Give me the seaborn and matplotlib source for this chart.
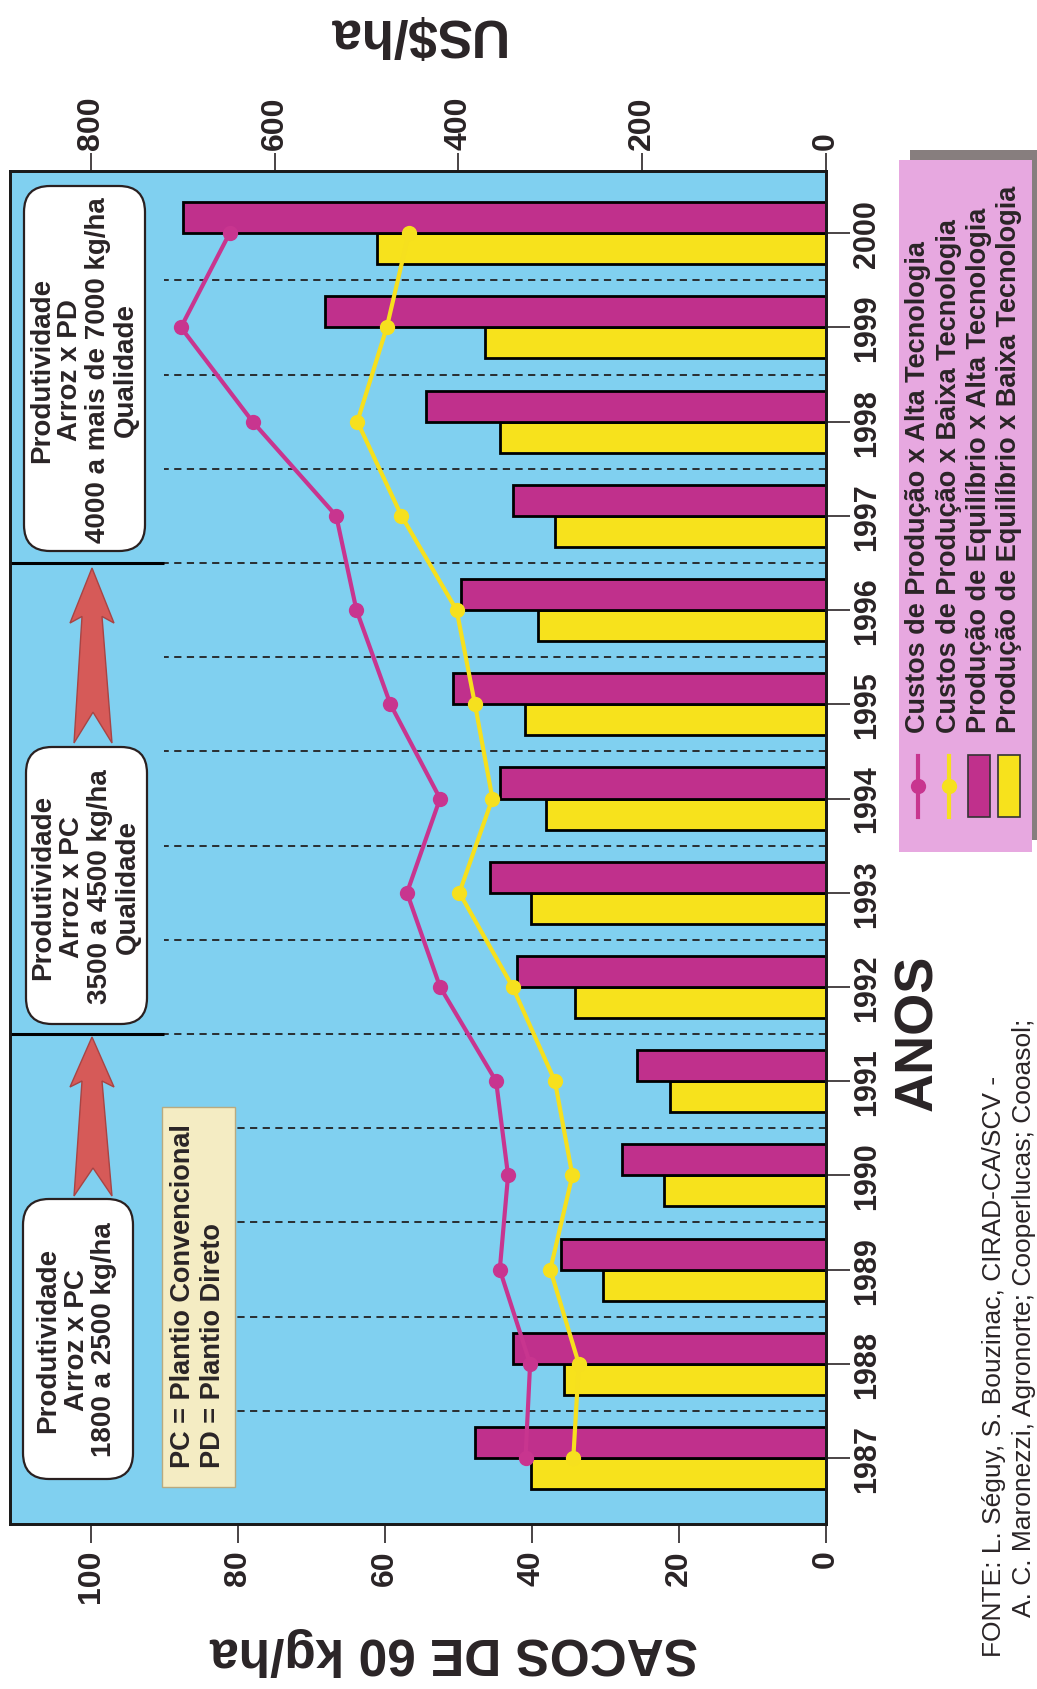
import pandas as pd
import matplotlib
matplotlib.use("Agg")
import matplotlib.pyplot as plt
import seaborn as sns
from matplotlib.patches import FancyBboxPatch, Rectangle, Polygon
from matplotlib.lines import Line2D

plt.rcParams['font.family'] = ['Liberation Sans', 'DejaVu Sans']
plt.rcParams['font.weight'] = 'bold'

# ---- data ----
anos = [1987, 1988, 1989, 1990, 1991, 1992, 1993, 1994, 1995, 1996, 1997, 1998, 1999, 2000]
prod_alta = [47.7, 42.6, 36.0, 27.8, 25.7, 42.1, 45.7, 44.3, 50.8, 49.7, 42.6, 54.4, 68.2, 87.4]
prod_baixa = [40.1, 35.7, 30.4, 22.1, 21.2, 34.2, 40.1, 38.1, 40.9, 39.2, 36.9, 44.4, 46.4, 61.1]
custo_alta = [327, 322, 355, 346, 359, 420, 456, 420, 474, 511, 533, 624, 702, 649]
custo_baixa = [275, 269, 300, 276, 295, 341, 399, 363, 382, 402, 462, 510, 478, 454]

sacos_ticks = [0, 20, 40, 60, 80, 100]
usd_ticks = [0, 200, 400, 600, 800]

lbl_custo_alta = 'Custos de Produção x Alta Tecnologia'
lbl_custo_baixa = 'Custos de Produção x Baixa Tecnologia'
lbl_prod_alta = 'Produção de Equilíbrio x Alta Tecnologia'
lbl_prod_baixa = 'Produção de Equilíbrio x Baixa Tecnologia'

fundo = '#80d0f0'
roxo = '#c0308c'
roxo_linha = '#c8358f'
amarelo = '#f7e21c'
amarelo_linha = '#f6e01e'
tinta = '#2a2426'

prod = pd.DataFrame({
    'Ano': anos * 2,
    'Sacos': prod_alta + prod_baixa,
    'Serie': [lbl_prod_alta] * len(anos) + [lbl_prod_baixa] * len(anos),
})
custo = pd.DataFrame({
    'Ano': anos * 2,
    'USD': custo_alta + custo_baixa,
    'Serie': [lbl_custo_alta] * len(anos) + [lbl_custo_baixa] * len(anos),
})

W, H = 1037, 1690
L, R, T, B = 10, 826, 172, 1525
fig = plt.figure(figsize=(W / 100, H / 100), dpi=100)
ax = fig.add_axes([L / W, 1 - B / H, (R - L) / W, (B - T) / H])
ax.set_facecolor(fundo)

# bars (production, sacos/ha)
sns.barplot(data=prod, x='Sacos', y='Ano', hue='Serie',
            hue_order=[lbl_prod_baixa, lbl_prod_alta],
            palette={lbl_prod_alta: roxo, lbl_prod_baixa: amarelo},
            orient='y', native_scale=True, width=0.66, gap=0,
            saturation=1, edgecolor='black', linewidth=2,
            errorbar=None, legend=False, ax=ax)

# dashed separators and period dividers
sep = [a + 0.5 for a in anos[:-1]]
ax.hlines(sep, 0, 90, colors='#222222', linestyles=(0, (4, 3)), lw=1.3, zorder=0.5)
ax.hlines([1991.5, 1996.5], 90, 111, colors='black', lw=2.2, zorder=0.5)

# lines (costs, US$/ha)
ax2 = ax.twiny()
sns.lineplot(data=custo, x='USD', y='Ano', hue='Serie',
             hue_order=[lbl_custo_alta, lbl_custo_baixa],
             palette={lbl_custo_alta: roxo_linha, lbl_custo_baixa: amarelo_linha},
             marker='o', markersize=11, markeredgewidth=0, linewidth=3,
             sort=False, estimator=None, legend=False, ax=ax2)

ax.set_xlim(111, 0)
ax2.set_xlim(888, 0)
ax.set_ylim(1986.30, 2000.66)

ax.set_xlabel('')
ax.set_ylabel('')
ax2.set_xlabel('')
ax2.set_ylabel('')

ax.set_xticks(sacos_ticks)
ax.set_xticklabels([str(v) for v in sacos_ticks], rotation=90)
ax.tick_params(axis='x', bottom=True, length=14, width=1.2, pad=4,
               labelsize=23, colors=tinta)
ax.yaxis.tick_right()
ax.set_yticks(anos)
ax.set_yticklabels([str(a) for a in anos], rotation=90, va='center')
ax.tick_params(axis='y', right=True, left=False, length=17, width=1.2, pad=2,
               labelsize=22, colors=tinta)

ax2.set_xticks(usd_ticks)
ax2.set_xticklabels([str(v) for v in usd_ticks], rotation=90)
ax2.tick_params(axis='x', top=True, length=13, width=1.2, pad=3,
                labelsize=23, colors=tinta)

for a in (ax, ax2):
    for s in a.spines.values():
        s.set_color('#1a1a1a')
        s.set_linewidth(2)

# ---- overlay in pixel coordinates for the annotations ----
ov = fig.add_axes([0, 0, 1, 1])
ov.set_xlim(0, W)
ov.set_ylim(H, 0)
ov.axis('off')
ov.patch.set_visible(False)

# axis titles (rotated as in the scan)
ov.text(415, 33, 'US$/ha', rotation=180, ha='center', va='center',
        fontsize=38, color=tinta)
ov.text(454, 1652, 'SACOS DE 60 kg/ha', rotation=180, ha='center', va='center',
        fontsize=37, color=tinta)
ov.text(918, 1033, 'ANOS', rotation=90, ha='center', va='center',
        fontsize=39, color=tinta)


def caixa(x0, y0, x1, y1, linhas, xs, yc):
    ov.add_patch(FancyBboxPatch((x0, y0), x1 - x0, y1 - y0,
                                boxstyle='round,pad=0,rounding_size=26',
                                fc='white', ec='#2a2020', lw=1.6, zorder=3))
    for t, x in zip(linhas, xs):
        ov.text(x, yc, t, rotation=90, rotation_mode='anchor', ha='center',
                va='center', fontsize=20, fontweight='heavy', color=tinta, zorder=4)


caixa(24, 187, 145, 552,
      ['Produtividade', 'Arroz x PD', '4000 a mais de 7000 kg/ha', 'Qualidade'],
      [42, 70, 98, 126], 370)
caixa(26, 748, 147, 1025,
      ['Produtividade', 'Arroz x PC', '3500 a 4500 kg/ha', 'Qualidade'],
      [43, 72, 100, 128], 887)
caixa(23, 1200, 133, 1480,
      ['Produtividade', 'Arroz x PC', '1800 a 2500 kg/ha'],
      [48, 77, 104], 1340)


def seta(xc, y_tip, y_tail):
    k = (y_tail - y_tip) / 159.0
    pts = [(xc, y_tip),
           (xc + 22, y_tip + 50 * k),
           (xc + 10, y_tip + 44 * k),
           (xc + 20, y_tail),
           (xc + 1, y_tail - 28 * k),
           (xc - 18, y_tail),
           (xc - 10, y_tip + 44 * k),
           (xc - 22, y_tip + 50 * k)]
    ov.add_patch(Polygon(pts, closed=True, fc='#d65a58', ec='#a84444',
                         lw=1, zorder=3))


seta(92, 1038, 1197)
seta(92, 569, 744)

# PC / PD note
ov.add_patch(Rectangle((162, 1108), 73, 380, fc='#f4ecc3', ec='#b8aa80',
                       lw=1, zorder=3))
ov.text(183, 1468, 'PC = Plantio Convencional', rotation=90, rotation_mode='anchor',
        ha='left', va='center', fontsize=19.5, color=tinta, zorder=4)
ov.text(213, 1468, 'PD = Plantio Direto', rotation=90, rotation_mode='anchor',
        ha='left', va='center', fontsize=19.5, color=tinta, zorder=4)

# legend (rotated)
ov.add_patch(Rectangle((910, 151), 127, 690, fc='#877e7e', ec='none', zorder=2))
ov.add_patch(Rectangle((899, 161), 133, 692, fc='#e7a8e0', ec='none', zorder=3))
leg_x = [918, 949, 979, 1009]
leg_lbl = [lbl_custo_alta, lbl_custo_baixa, lbl_prod_alta, lbl_prod_baixa]
for x, t in zip(leg_x, leg_lbl):
    ov.text(x, 733, t, rotation=90, rotation_mode='anchor', ha='left',
            va='center', fontsize=19.5, color=tinta, zorder=4)
for x, c in zip(leg_x[:2], [roxo_linha, amarelo_linha]):
    ov.add_line(Line2D([x, x], [757, 818], color=c, lw=3, zorder=4))
    ov.add_line(Line2D([x], [787], color=c, marker='o', markersize=11,
                       markeredgewidth=0, zorder=4))
for x, c in zip(leg_x[2:], [roxo, amarelo]):
    ov.add_patch(Rectangle((x - 11, 756), 22, 62, fc=c, ec='#333333',
                           lw=1.2, zorder=4))

# source
ov.text(994, 1657, 'FONTE: L. Séguy, S. Bouzinac, CIRAD-CA/SCV -', rotation=90,
        rotation_mode='anchor', ha='left', va='center', fontsize=19,
        fontweight='normal', color=tinta)
ov.text(1024, 1617, 'A. C. Maronezzi, Agronorte; Cooperlucas; Cooasol;', rotation=90,
        rotation_mode='anchor', ha='left', va='center', fontsize=19,
        fontweight='normal', color=tinta)

fig.savefig('out.png', dpi=100, facecolor='white')
